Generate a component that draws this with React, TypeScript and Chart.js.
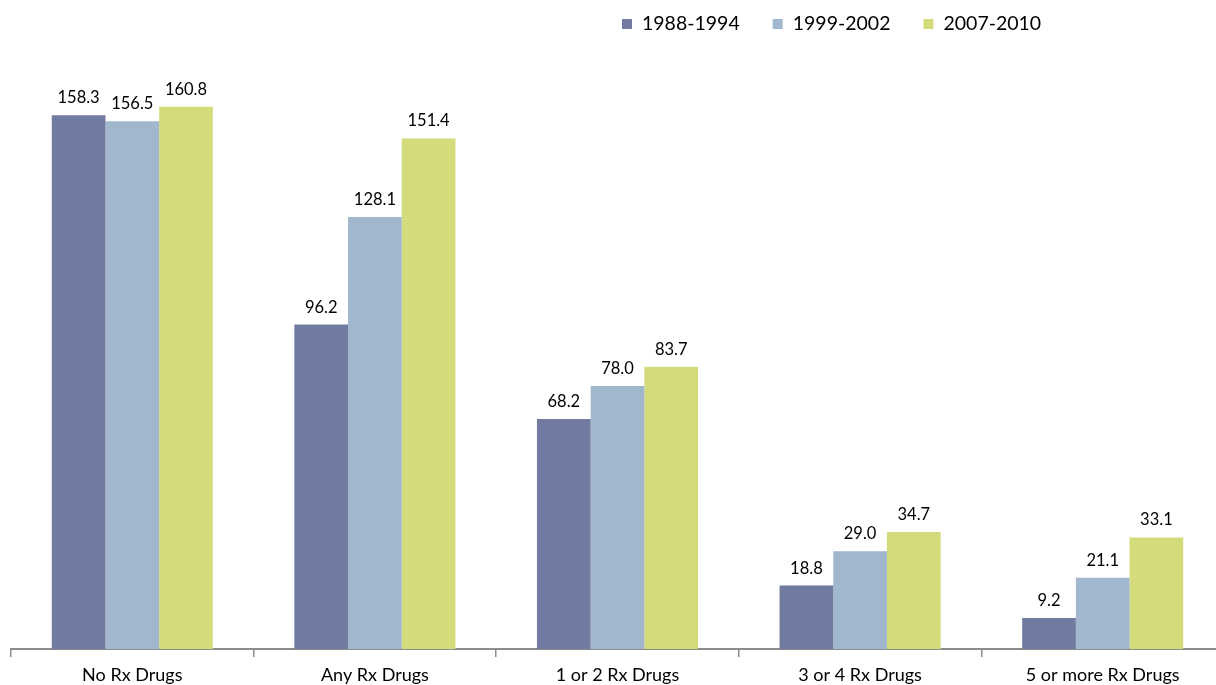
import React, { useEffect, useRef } from "react";
import { Chart, registerables } from "chart.js";

Chart.register(...registerables);

const categories = ["No Rx Drugs", "Any Rx Drugs", "1 or 2 Rx Drugs", "3 or 4 Rx Drugs", "5 or more Rx Drugs"];
const seriesLabels = ["1988-1994", "1999-2002", "2007-2010"];
const values1988 = [158.3, 96.2, 68.2, 18.8, 9.2];
const values1999 = [156.5, 128.1, 78.0, 29.0, 21.1];
const values2007 = [160.8, 151.4, 83.7, 34.7, 33.1];
const seriesColors = ["#717aa0", "#a1b7ce", "#d4db7a"];

const FONT = "Lato, 'Open Sans', sans-serif";

const valueLabelPlugin = {
  id: "valueLabels",
  afterDatasetsDraw(chart: any) {
    const ctx = chart.ctx;
    ctx.save();
    ctx.font = `16.5px ${FONT}`;
    ctx.fillStyle = "#000";
    ctx.textAlign = "center";
    ctx.textBaseline = "alphabetic";
    chart.data.datasets.forEach((ds: any, i: number) => {
      const meta = chart.getDatasetMeta(i);
      meta.data.forEach((bar: any, j: number) => {
        const v = ds.data[j] as number;
        ctx.fillText(v.toFixed(1), bar.x, bar.y - 12);
      });
    });
    ctx.restore();
  },
};

const legendPlugin = {
  id: "customLegend",
  afterDraw(chart: any) {
    const ctx = chart.ctx;
    ctx.save();
    ctx.font = `19.5px ${FONT}`;
    ctx.textBaseline = "middle";
    ctx.textAlign = "left";
    let x = 622;
    const y = 24;
    chart.data.datasets.forEach((ds: any) => {
      ctx.fillStyle = ds.backgroundColor;
      ctx.fillRect(x, y - 5, 10, 10);
      ctx.fillStyle = "#000";
      ctx.fillText(ds.label, x + 20, y);
      x += 20 + ctx.measureText(ds.label).width + 33;
    });
    ctx.restore();
  },
};

export default function App() {
  const ref = useRef<HTMLCanvasElement | null>(null);

  useEffect(() => {
    document.body.style.margin = "0";
    document.body.style.overflow = "hidden";
    const seriesValues = [values1988, values1999, values2007];
    const chart = new Chart(ref.current as HTMLCanvasElement, {
      type: "bar",
      data: {
        labels: categories,
        datasets: seriesLabels.map((label, i) => ({
          label,
          data: seriesValues[i],
          backgroundColor: seriesColors[i],
          borderWidth: 0,
          categoryPercentage: 0.664,
          barPercentage: 1.0,
        })),
      },
      options: {
        animation: false,
        responsive: false,
        maintainAspectRatio: false,
        layout: { padding: { top: 42, left: 11, right: 8, bottom: 0 } },
        plugins: {
          legend: { display: false },
          tooltip: { enabled: false },
        },
        scales: {
          x: {
            grid: {
              display: true,
              drawOnChartArea: false,
              offset: true,
              tickLength: 8,
              color: "#8c8c8c",
              lineWidth: 1.5,
            },
            border: { color: "#8c8c8c", width: 2 },
            ticks: {
              color: "#000",
              font: { family: FONT, size: 18 },
              padding: 7,
              maxRotation: 0,
            },
            afterFit: (s: any) => {
              s.height = 36;
            },
          },
          y: {
            display: false,
            min: 0,
            max: 180,
          },
        },
      },
      plugins: [valueLabelPlugin, legendPlugin],
    });
    return () => chart.destroy();
  }, []);

  return (
    <div style={{ position: "fixed", left: 0, top: 0, width: 1216, height: 685, overflow: "hidden", background: "#fff" }}>
      <canvas ref={ref} width={1232} height={685} style={{ display: "block", width: 1232, height: 685 }} />
    </div>
  );
}
